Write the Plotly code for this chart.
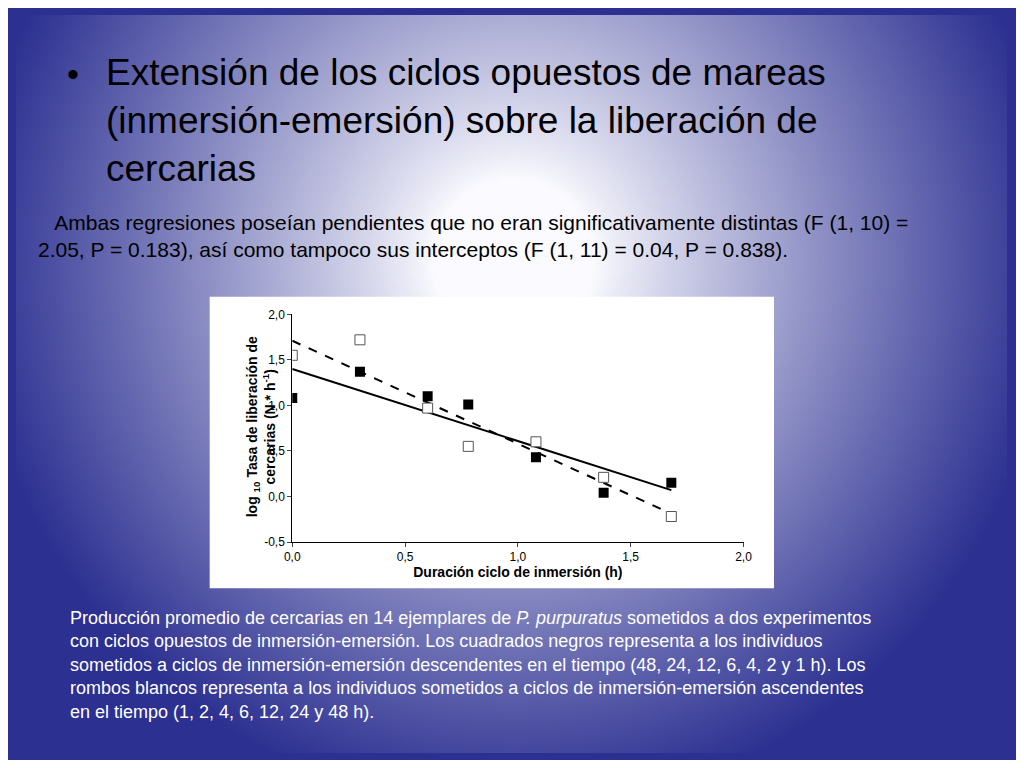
import numpy as np, zlib, struct, base64
import plotly.graph_objects as go

# Data
x_log = [0.0, 0.30, 0.60, 0.78, 1.08, 1.38, 1.68]
desc_vals = [1.08, 1.37, 1.10, 1.01, 0.43, 0.04, 0.15]   # black squares
asc_vals = [1.55, 1.72, 0.97, 0.55, 0.60, 0.21, -0.22]   # white squares
line_x = [0.0, 1.68]
solid_line = [1.40, 0.07]
dashed_line = [1.71, -0.19]
xticks = [0.0, 0.5, 1.0, 1.5, 2.0]
yticks = [-0.5, 0.0, 0.5, 1.0, 1.5, 2.0]

FW, FH = 1008, 752
def px(x): return (x - 8) / FW
def py(y): return 1 - (y - 8) / FH

# background gradient image
W, H = 256, 192
yy, xx = np.mgrid[0:H, 0:W]
cx, cy = W * 0.5, H * 0.33
r = np.sqrt(((xx - cx) / (W * 0.55)) ** 2 + ((yy - cy) / (H * 0.75)) ** 2)
t = np.clip((r - 0.15) / 0.85, 0, 1) ** 0.9
blue = np.array([44, 48, 145]); white = np.array([250, 250, 255])
img = (white[None, None, :] * (1 - t[..., None]) + blue[None, None, :] * t[..., None]).astype(np.uint8)
raw = b''.join(b'\x00' + img[i].tobytes() for i in range(H))
def chunk(tag, data):
    c = struct.pack('>I', len(data)) + tag + data
    return c + struct.pack('>I', zlib.crc32(tag + data) & 0xffffffff)
png = b'\x89PNG\r\n\x1a\n' + chunk(b'IHDR', struct.pack('>IIBBBBB', W, H, 8, 2, 0, 0, 0)) + chunk(b'IDAT', zlib.compress(raw)) + chunk(b'IEND', b'')
src = 'data:image/png;base64,' + base64.b64encode(png).decode()

fig = go.Figure()
fig.add_trace(go.Scatter(x=line_x, y=solid_line, mode='lines', line=dict(color='black', width=2)))
fig.add_trace(go.Scatter(x=line_x, y=dashed_line, mode='lines', line=dict(color='black', width=2, dash='dash')))
fig.add_trace(go.Scatter(x=x_log, y=desc_vals, mode='markers',
                         marker=dict(symbol='square', size=10, color='black')))
fig.add_trace(go.Scatter(x=x_log, y=asc_vals, mode='markers',
                         marker=dict(symbol='square', size=10, color='white', line=dict(color='#555', width=1))))

F = 'Liberation Sans, Arial, sans-serif'
fig.update_layout(
    width=FW, height=FH, margin=dict(l=0, r=0, t=0, b=0), showlegend=False,
    paper_bgcolor='#2c3091', plot_bgcolor='white',
    images=[dict(source=src, xref='paper', yref='paper', x=0, y=1, sizex=1, sizey=1,
                 sizing='stretch', layer='below')],
    shapes=[dict(type='rect', xref='paper', yref='paper', x0=px(205), x1=px(779), y0=py(592), y1=py(295),
                 fillcolor='white', line=dict(width=0), layer='below')],
    xaxis=dict(domain=[px(289), px(748)], range=[0, 2.0], tickvals=xticks,
               ticktext=[f'{v:.1f}'.replace('.', ',') for v in xticks], showgrid=False, zeroline=False,
               showline=True, linecolor='black', ticks='outside', ticklen=4,
               tickfont=dict(family=F, size=12, color='black'),
               title=dict(text='<b>Duración ciclo de inmersión (h)</b>', font=dict(family=F, size=14, color='black'), standoff=2)),
    yaxis=dict(domain=[py(545), py(313)], range=[-0.5, 2.0], tickvals=yticks,
               ticktext=[f'{v:.1f}'.replace('.', ',') for v in yticks], showgrid=False, zeroline=False,
               showline=True, linecolor='black', ticks='outside', ticklen=4,
               tickfont=dict(family=F, size=12, color='black')),
)
fig.add_annotation(xref='paper', yref='paper', x=px(238), y=py(428), textangle=-90, showarrow=False,
                   text='<b>log <sub>10</sub> Tasa de liberación de<br>cercarias (N * h<sup>-1</sup>)</b>',
                   font=dict(family=F, size=14, color='black'))
fig.add_annotation(xref='paper', yref='paper', x=px(58), y=py(68), xanchor='left', yanchor='middle', showarrow=False,
                   text='•', font=dict(family=F, size=34, color='black'))
fig.add_annotation(xref='paper', yref='paper', x=px(98), y=py(115), xanchor='left', yanchor='middle',
                   align='left', showarrow=False,
                   text='Extensión de los ciclos opuestos de mareas<br>(inmersión-emersión) sobre la liberación de<br>cercarias',
                   font=dict(family=F, size=37, color='black'))
fig.add_annotation(xref='paper', yref='paper', x=px(28), y=py(233), xanchor='left', yanchor='middle',
                   align='left', showarrow=False,
                   text='   Ambas regresiones poseían pendientes que no eran significativamente distintas (F (1, 10) =<br>2.05, P = 0.183), así como tampoco sus interceptos (F (1, 11) = 0.04, P = 0.838).',
                   font=dict(family=F, size=21, color='black'))
fig.add_annotation(xref='paper', yref='paper', x=px(61), y=py(670), xanchor='left', yanchor='middle',
                   align='left', showarrow=False,
                   text='Producción promedio de cercarias en 14 ejemplares de <i>P. purpuratus</i> sometidos a dos experimentos<br>'
                        'con ciclos opuestos de inmersión-emersión. Los cuadrados negros representa a los individuos<br>'
                        'sometidos a ciclos de inmersión-emersión descendentes en el tiempo (48, 24, 12, 6, 4, 2 y 1 h). Los<br>'
                        'rombos blancos representa a los individuos sometidos a ciclos de inmersión-emersión ascendentes<br>'
                        'en el tiempo (1, 2, 4, 6, 12, 24 y 48 h).',
                   font=dict(family=F, size=18, color='white'))
fig.write_html('out.html')
